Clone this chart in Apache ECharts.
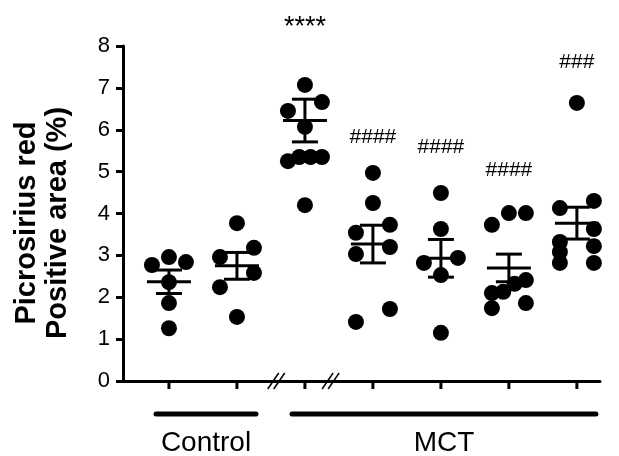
<!DOCTYPE html>
<html>
<head>
<meta charset="utf-8">
<script src="https://cdn.jsdelivr.net/npm/echarts@6/dist/echarts.min.js"></script>
<style>
html,body{margin:0;padding:0;background:#fff;}
#c{width:619px;height:456px;}
</style>
</head>
<body>
<div id="c"></div>
<script>
// ---- data ----
const control1 = [2.96, 2.84, 2.77, 2.36, 1.86, 1.26];
const control2 = [3.77, 3.18, 2.96, 2.58, 2.24, 1.53];
const mct1 = [7.07, 6.66, 6.45, 6.07, 5.35, 5.35, 5.35, 5.25, 4.20];
const mct2 = [4.97, 4.25, 3.73, 3.54, 3.20, 3.03, 1.72, 1.41];
const mct3 = [4.49, 3.63, 2.94, 2.82, 2.53, 1.15];
const mct4 = [4.01, 4.01, 3.73, 2.41, 2.32, 2.13, 2.10, 1.86, 1.74];
const mct5 = [6.64, 4.30, 4.13, 3.63, 3.32, 3.22, 3.08, 2.82, 2.82];
const groupsData = [control1, control2, mct1, mct2, mct3, mct4, mct5];

const means = [2.37, 2.75, 6.22, 3.27, 2.93, 2.70, 3.77];
const sems  = [0.28, 0.32, 0.51, 0.45, 0.45, 0.33, 0.38];

const annotTexts  = ['', '', '****', '####', '####', '####', '###'];
const annotLevels = [null, null, 8.45, 5.83, 5.59, 5.04, 7.62];

const yTicks = [0, 1, 2, 3, 4, 5, 6, 7, 8];
const groupLabels = ['Control', 'MCT'];
const groupFrom = [0, 2];
const groupTo = [1, 6];
const axisBreaks = [1.6, 2.4];
const yTitle = ['Picrosirius red', 'Positive area (%)'];

// ---- row-based scatter spreading (computed from values) ----
const DY = 0.36, STEP = 0.25;
function swarm(vals, idx) {
  const sorted = vals.slice().sort((a, b) => b - a);
  const rows = [];
  sorted.forEach(v => {
    const last = rows[rows.length - 1];
    if (last && last[0] - v < DY) last.push(v); else rows.push([v]);
  });
  const out = [];
  rows.forEach(r => {
    let offs;
    if (r.length === 1) offs = [0];
    else if (r.length === 2) offs = [1, -1];
    else if (r.length === 3) offs = [0, 1, -1];
    else offs = r.map((_, j) => 1 - 2 * j / (r.length - 1));
    r.forEach((v, j) => out.push([idx + offs[j] * STEP, v]));
  });
  return out;
}
const points = [];
groupsData.forEach((g, i) => swarm(g, i).forEach(p => points.push(p)));

const FONT = '"Liberation Sans", Arial, sans-serif';
const chart = echarts.init(document.getElementById('c'), null, {renderer: 'canvas'});

const option = {
  animation: false,
  backgroundColor: '#fff',
  grid: {left: 123, right: 19, top: 46, bottom: 75, containLabel: false},
  xAxis: {
    type: 'value', min: -0.676, max: 6.34,
    axisLine: {show: true, onZero: false, lineStyle: {color: '#000', width: 3}},
    axisTick: {show: false}, axisLabel: {show: false}, splitLine: {show: false}
  },
  yAxis: {
    type: 'value', min: 0, max: 8, interval: 1,
    axisLine: {show: true, onZero: false, lineStyle: {color: '#000', width: 3}},
    axisTick: {show: true, length: 7, lineStyle: {color: '#000', width: 3}},
    axisLabel: {color: '#000', fontSize: 22, fontFamily: FONT, margin: 13},
    splitLine: {show: false}
  },
  series: [
    {
      type: 'custom', name: 'ticks', clip: false, z: 3,
      data: means.map((m, i) => [i, 0]),
      renderItem: (params, api) => {
        const p = api.coord([api.value(0), 0]);
        return {type: 'line', shape: {x1: p[0], y1: p[1], x2: p[0], y2: p[1] + 8},
                style: {stroke: '#000', lineWidth: 3}};
      }
    },
    {
      type: 'custom', name: 'breaks', clip: false, z: 4,
      data: axisBreaks.map(b => [b, 0]),
      renderItem: (params, api) => {
        const p = api.coord([api.value(0), 0]);
        const x = p[0], y = p[1];
        return {type: 'group', children: [
          {type: 'line', shape: {x1: x - 10, y1: y + 8, x2: x + 1, y2: y - 8}, style: {stroke: '#000', lineWidth: 1.5}},
          {type: 'line', shape: {x1: x - 4, y1: y + 8, x2: x + 7, y2: y - 8}, style: {stroke: '#000', lineWidth: 1.5}}
        ]};
      }
    },
    {
      type: 'scatter', name: 'points', data: points, symbol: 'circle', symbolSize: 16,
      itemStyle: {color: '#000', opacity: 1}, z: 5
    },
    {
      type: 'custom', name: 'meanSem', z: 6, clip: false,
      data: means.map((m, i) => [i, m, sems[i]]),
      renderItem: (params, api) => {
        const i = api.value(0), m = api.value(1), s = api.value(2);
        const pm = api.coord([i, m]), pt = api.coord([i, m + s]), pb = api.coord([i, m - s]);
        const st = {stroke: '#000', lineWidth: 3};
        return {type: 'group', children: [
          {type: 'line', shape: {x1: pm[0] - 22, y1: pm[1], x2: pm[0] + 22, y2: pm[1]}, style: st},
          {type: 'line', shape: {x1: pt[0], y1: pt[1], x2: pb[0], y2: pb[1]}, style: st},
          {type: 'line', shape: {x1: pt[0] - 13, y1: pt[1], x2: pt[0] + 13, y2: pt[1]}, style: st},
          {type: 'line', shape: {x1: pb[0] - 13, y1: pb[1], x2: pb[0] + 13, y2: pb[1]}, style: st}
        ]};
      }
    },
    {
      type: 'custom', name: 'annot', z: 7, clip: false,
      data: annotLevels.map((l, i) => l == null ? null : [i, l]).filter(d => d),
      renderItem: (params, api) => {
        const i = api.value(0);
        const p = api.coord([i, api.value(1)]);
        const txt = annotTexts[i];
        const size = txt.indexOf('*') >= 0 ? 27 : 21;
        return {type: 'text', x: p[0], y: p[1],
                style: {text: txt, fill: '#000', font: size + 'px ' + FONT,
                        align: 'center', verticalAlign: 'middle'}};
      }
    }
  ]
};
chart.setOption(option);

// group bars and labels below the axis, positioned through the axis scale
const graphics = [];
groupLabels.forEach((name, k) => {
  const a = chart.convertToPixel({gridIndex: 0}, [groupFrom[k] - 0.19, 0]);
  const b = chart.convertToPixel({gridIndex: 0}, [groupTo[k] + 0.28, 0]);
  const y = a[1] + 33;
  graphics.push({type: 'line', shape: {x1: a[0], y1: y, x2: b[0], y2: y},
                 style: {stroke: '#000', lineWidth: 5, lineCap: 'round'}});
  graphics.push({type: 'text', x: (a[0] + b[0]) / 2, y: y + 29,
                 style: {text: name, fill: '#000', font: '28px ' + FONT, align: 'center', verticalAlign: 'middle'}});
});
graphics.push({type: 'text', x: 42, y: 223, rotation: Math.PI / 2,
               style: {text: yTitle.join('\n'), fill: '#000', font: 'bold 29px ' + FONT,
                       lineHeight: 31, align: 'center', verticalAlign: 'middle'}});
chart.setOption({graphic: graphics});
</script>
</body>
</html>
